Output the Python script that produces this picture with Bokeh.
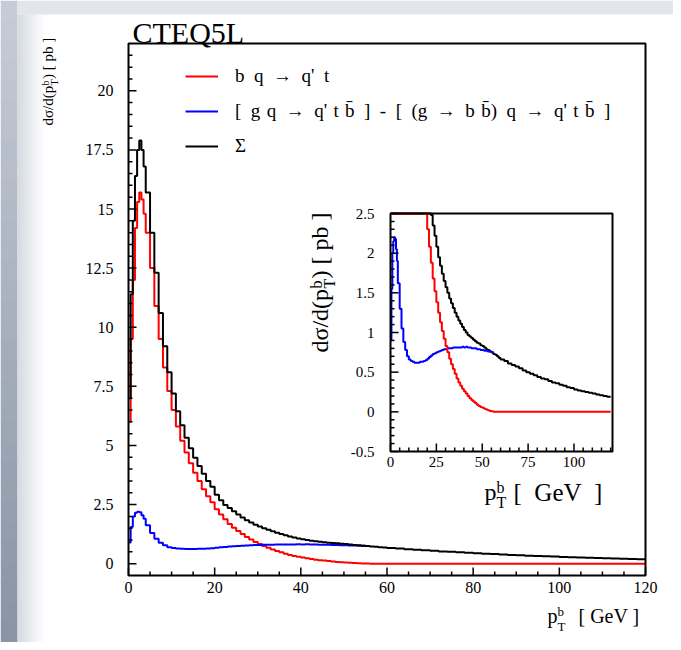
import numpy as np
from bokeh.plotting import figure
from bokeh.models import Range1d, Legend, LegendItem, Label, BoxAnnotation
from bokeh.embed import file_html
from bokeh.resources import INLINE
from bokeh.core.properties import value

# ---------------- data (histogram bins in GeV) ----------------
bin_edges = np.concatenate([np.arange(0, 4, 0.5), np.arange(4, 60, 1.0), np.arange(60, 122, 2.0)])

red_bq = [6.0, 9.5, 12.0, 14.2, 15.3, 15.7, 15.4, 14.8,
          14.0, 12.5, 10.9, 9.5, 8.3, 7.3, 6.5, 5.8, 5.2, 4.7,
          4.25, 3.85, 3.5, 3.15, 2.85, 2.6, 2.3, 2.08, 1.88, 1.68,
          1.52, 1.38, 1.25, 1.13, 1.02, 0.92, 0.83, 0.75, 0.67, 0.6,
          0.54, 0.48, 0.42, 0.37, 0.33, 0.29, 0.26, 0.23, 0.2, 0.17,
          0.15, 0.13, 0.11, 0.09, 0.075, 0.06, 0.05, 0.04, 0.03, 0.02,
          0.012, 0.006, 0.002, 0, 0, 0,
          0, 0, 0, 0, 0, 0, 0, 0, 0, 0,
          0, 0, 0, 0, 0, 0, 0, 0, 0, 0,
          0, 0, 0, 0, 0, 0, 0, 0, 0, 0]

blue_gq = [0.9, 1.55, 2.0, 2.15, 2.2, 2.18, 2.05, 1.9,
           1.62, 1.3, 1.05, 0.88, 0.78, 0.7, 0.66, 0.64, 0.63, 0.62,
           0.62, 0.62, 0.63, 0.63, 0.64, 0.65, 0.67, 0.69, 0.71, 0.73,
           0.74, 0.75, 0.76, 0.77, 0.78, 0.79, 0.79, 0.8, 0.8, 0.8,
           0.81, 0.81, 0.81, 0.81, 0.81, 0.82, 0.81, 0.82, 0.81, 0.81,
           0.8, 0.8, 0.8, 0.79, 0.79, 0.78, 0.78, 0.77, 0.77, 0.76,
           0.76, 0.75]

black_sum = [7.0, 11.4, 14.5, 16.4, 17.5, 17.9, 17.5, 16.8,
             15.7, 14.0, 12.3, 10.6, 9.2, 8.1, 7.2, 6.45, 5.85, 5.33,
             4.88, 4.48, 4.13, 3.8, 3.5, 3.25, 2.92, 2.68, 2.48, 2.35,
             2.22, 2.08, 1.95, 1.84, 1.74, 1.65, 1.57, 1.5, 1.43, 1.37,
             1.31, 1.25, 1.2, 1.15, 1.11, 1.07, 1.03, 1.0, 0.97, 0.95,
             0.93, 0.91, 0.89, 0.87, 0.86, 0.84, 0.83, 0.81, 0.79, 0.78,
             0.76, 0.75, 0.73, 0.72, 0.7, 0.68,
             0.66, 0.64, 0.61, 0.59, 0.57, 0.55, 0.52, 0.5, 0.48, 0.46,
             0.44, 0.42, 0.41, 0.39, 0.37, 0.36, 0.34, 0.33, 0.31, 0.3,
             0.28, 0.27, 0.26, 0.25, 0.24, 0.23, 0.22, 0.21, 0.2, 0.19]

EN, TP = "\u2002", "\u2004"
AR = "\u2192"
BB = "b\u0304"
legend_labels = [
    EN.join(["b", "q", AR, "q'", "t"]),
    "[" + EN + "g" + TP + "q" + EN + AR + EN + "q'" + TP + "t" + TP + BB + EN + "]" + EN + "-" + EN
    + "[" + EN + "(g" + EN + AR + EN + "b" + TP + BB + ")" + EN + "q" + EN + AR + EN + "q'" + TP + "t"
    + TP + BB + EN + "]",
    "\u03a3"]

main_x_range = (0, 120)
main_y_range = (-0.5, 22)
main_x_major = [0, 20, 40, 60, 80, 100, 120]
main_x_labels = ["0", "20", "40", "60", "80", "100", "120"]
main_y_major = [0, 2.5, 5, 7.5, 10, 12.5, 15, 17.5, 20]
main_y_labels = ["0", "2.5", "5", "7.5", "10", "12.5", "15", "17.5", "20"]
main_x_minor_step = 5
main_y_minor_step = 0.5

inset_x_range = (0, 121)
inset_y_range = (-0.5, 2.5)
inset_x_major = [0, 25, 50, 75, 100]
inset_x_labels = ["0", "25", "50", "75", "100"]
inset_y_major = [-0.5, 0, 0.5, 1, 1.5, 2, 2.5]
inset_y_labels = ["-0.5", "0", "0.5", "1", "1.5", "2", "2.5"]
inset_x_minor_step = 5
inset_y_minor_step = 0.1

SERIF = "Liberation Serif"
RED, BLUE, BLACK = "#ff0000", "#0000ff", "#000000"

# ---------------- layout geometry (canvas pixels, origin top-left) ----------------
W, H = 673, 642
M_L, M_R, M_T, M_B = 128, 645, 43, 575      # main plot box
I_L, I_R, I_T, I_B = 390, 612, 213, 451     # inset box


def span(lo, hi, p_lo, p_hi, size, flip=False):
    k = (p_hi - p_lo) / (hi - lo)
    if not flip:
        return Range1d(lo - p_lo / k, hi + (size - p_hi) / k), k
    return Range1d(lo - (size - p_hi) / k, hi + p_lo / k), k


xr, kx = span(*main_x_range, M_L, M_R, W)
yr, ky = span(*main_y_range, M_T, M_B, H, flip=True)
ixr, kxi = span(*inset_x_range, I_L, I_R, W)
iyr, kyi = span(*inset_y_range, I_T, I_B, H, flip=True)

p = figure(width=W, height=H, title=None, x_range=xr, y_range=yr,
           x_axis_location=None, y_axis_location=None,
           output_backend="svg", toolbar_location=None,
           min_border=0, min_border_left=0, min_border_right=0,
           min_border_top=0, min_border_bottom=0)
p.grid.visible = False
p.outline_line_color = None
p.background_fill_color = "white"
p.border_fill_color = "white"
p.extra_x_ranges = {"ix": ixr}
p.extra_y_ranges = {"iy": iyr}
IR = dict(x_range_name="ix", y_range_name="iy")


# ---------------- slide-like background strip (left / top) ----------------
def sbox(l, r, top, bot, c):
    p.add_layout(BoxAnnotation(left=l, right=r, top=H - top, bottom=H - bot,
                               left_units="screen", right_units="screen",
                               bottom_units="screen", top_units="screen",
                               fill_color=c, fill_alpha=1.0, line_color=None,
                               line_alpha=0, level="underlay"))


def mix(c1, c2, t):
    a = [int(c1[i:i + 2], 16) for i in (1, 3, 5)]
    b = [int(c2[i:i + 2], 16) for i in (1, 3, 5)]
    return "#" + "".join(f"{round(x + (y - x) * t):02x}" for x, y in zip(a, b))


NSEG = 32
for i in range(NSEG):
    sbox(0, 17, i * H / NSEG, (i + 1) * H / NSEG + 1, mix("#c6ccd7", "#8a94a5", i / (NSEG - 1)))
NL = 14
for i in range(NL):
    sbox(17 + 2 * i, 17 + 2 * (i + 1) + 0.5, 14, H, mix("#d3d8e0", "#ffffff", (i + 1) / NL))
sbox(17, W, 0, 14, "#e2e5ea")


def step_xy(edges, vals, cap=None):
    v = np.asarray(vals, dtype=float)
    if cap is not None:
        v = np.minimum(v, cap)
    e = np.asarray(edges[:len(v) + 1], dtype=float)
    return e, np.append(v, v[-1])


def ticks(xmaj, xmin_step, xlim, ymaj, ymin_step, ylim, kxx, kyy, lw, rng):
    x0, y0 = xlim[0], ylim[0]
    xmin = [t for t in np.arange(xlim[0], xlim[1] + 1e-9, xmin_step)
            if min(abs(t - m) for m in xmaj) > 1e-6 and t > xlim[0]]
    ymin = [round(t, 3) for t in np.arange(ylim[0], ylim[1] + 1e-9, ymin_step)]
    ymin = [t for t in ymin if min(abs(t - m) for m in ymaj) > 1e-6 and ylim[0] < t < ylim[1]]
    p.segment(x0=xmaj, x1=xmaj, y0=[y0] * len(xmaj), y1=[y0 + 8 / kyy] * len(xmaj),
              line_color="black", line_width=lw, **rng)
    p.segment(x0=xmin, x1=xmin, y0=[y0] * len(xmin), y1=[y0 + 4 / kyy] * len(xmin),
              line_color="black", line_width=lw, **rng)
    p.segment(x0=[x0] * len(ymaj), x1=[x0 + 8 / kxx] * len(ymaj), y0=ymaj, y1=ymaj,
              line_color="black", line_width=lw, **rng)
    p.segment(x0=[x0] * len(ymin), x1=[x0 + 4 / kxx] * len(ymin), y0=ymin, y1=ymin,
              line_color="black", line_width=lw, **rng)


def tick_labels(xmaj, xlab, ymaj, ylab, x0, y0, size, xoff, yoff, rng):
    p.text(x=xmaj, y=[y0] * len(xmaj), text=xlab, y_offset=yoff,
           text_align="center", text_baseline="top", text_font=value(SERIF),
           text_font_size=value(f"{size}px"), text_color="black", **rng)
    p.text(x=[x0] * len(ymaj), y=ymaj, text=ylab, x_offset=xoff,
           text_align="right", text_baseline="middle", text_font=value(SERIF),
           text_font_size=value(f"{size}px"), text_color="black", **rng)


MR = {}

# ---------------- main plot ----------------
p.quad(left=[main_x_range[0]], right=[main_x_range[1]], bottom=[main_y_range[0]],
       top=[main_y_range[1]], fill_color="white", line_color=None)

ex, ey = step_xy(bin_edges, red_bq)
r_red = p.step(ex, ey, mode="after", line_color=RED, line_width=2)
ex, ey = step_xy(bin_edges, blue_gq)
r_blue = p.step(ex, ey, mode="after", line_color=BLUE, line_width=2)
ex, ey = step_xy(bin_edges, black_sum)
r_black = p.step(ex, ey, mode="after", line_color=BLACK, line_width=2)

ticks(main_x_major, main_x_minor_step, main_x_range, main_y_major, main_y_minor_step,
      main_y_range, kx, ky, 1.5, MR)
p.quad(left=[main_x_range[0]], right=[main_x_range[1]], bottom=[main_y_range[0]],
       top=[main_y_range[1]], fill_color=None, line_color="black", line_width=2)
tick_labels(main_x_major, main_x_labels, main_y_major, main_y_labels,
            main_x_range[0], main_y_range[0], 16, -15, 6, MR)

# ---------------- inset ----------------
p.quad(left=[inset_x_range[0]], right=[inset_x_range[1]], bottom=[inset_y_range[0]],
       top=[inset_y_range[1]], fill_color="white", line_color=None, **IR)
cap = inset_y_range[1]
ex, ey = step_xy(bin_edges, black_sum, cap)
p.step(ex, ey, mode="after", line_color=BLACK, line_width=2, **IR)
ex, ey = step_xy(bin_edges, blue_gq, cap)
p.step(ex, ey, mode="after", line_color=BLUE, line_width=2, **IR)
ex, ey = step_xy(bin_edges, red_bq, cap)
p.step(ex, ey, mode="after", line_color=RED, line_width=2, **IR)
ticks(inset_x_major, inset_x_minor_step, (0, 120), inset_y_major, inset_y_minor_step,
      inset_y_range, kxi, kyi, 1.5, IR)
p.quad(left=[inset_x_range[0]], right=[inset_x_range[1]], bottom=[inset_y_range[0]],
       top=[inset_y_range[1]], fill_color=None, line_color="black", line_width=2, **IR)
tick_labels(inset_x_major, inset_x_labels, inset_y_major, inset_y_labels,
            inset_x_range[0], inset_y_range[0], 15, -16, 5, IR)

# ---------------- legend ----------------
legend = Legend(items=[LegendItem(label=legend_labels[0], renderers=[r_red]),
                       LegendItem(label=legend_labels[1], renderers=[r_blue]),
                       LegendItem(label=legend_labels[2], renderers=[r_black])],
                location=(185, H - 157), orientation="vertical",
                glyph_width=33, glyph_height=20, label_height=20,
                label_standoff=17, spacing=13, padding=0, margin=0,
                border_line_color=None, background_fill_alpha=0,
                label_text_font=SERIF, label_text_font_size="19px",
                label_text_color="black")
p.add_layout(legend)


# ---------------- texts: (page x, page baseline) -> centred label ----------------
def lab(text, x, base, size, rot=False):
    if rot:   # rotated 90deg CCW: baseline is the vertical line page-x = base, text starts at page-y = x
        p.add_layout(Label(x=base - 0.34 * size, y=H - x, x_units="screen", y_units="screen",
                           text=text, text_font=SERIF, text_font_size=f"{size}px",
                           angle=np.pi / 2, text_align="left", text_baseline="middle",
                           text_color="black"))
    else:
        p.add_layout(Label(x=x, y=H - (base - 0.34 * size), x_units="screen", y_units="screen",
                           text=text, text_font=SERIF, text_font_size=f"{size}px",
                           text_align="left", text_baseline="middle", text_color="black"))


lab("CTEQ5L", 132, 42, 30)

# main x title  p_T^b [ GeV ]
lab("p", 547, 622, 20)
lab("b", 557, 615, 13)
lab("T", 557, 630, 13)
lab("[ GeV ]", 578, 622, 20)

# main y title  d sigma / d(p_T^b) [ pb ]
lab("d\u03c3/d(p", 125, 53, 15, rot=True)
lab("b", 85, 48, 10, rot=True)
lab("T", 85, 57, 10, rot=True)
lab(") [ pb ]", 78.5, 53, 15, rot=True)

# inset y title
lab("d\u03c3/d(p", 352, 328, 24, rot=True)
lab("b", 288, 321, 16, rot=True)
lab("T", 288, 334, 16, rot=True)
lab(") [ pb ]", 278, 328, 24, rot=True)

# inset x title
lab("p", 484, 500, 24)
lab("b", 496, 492, 16)
lab("T", 496, 507, 16)
lab("[" + EN + "GeV" + EN + "]", 513, 500, 25)

open("out.html", "w").write(file_html(p, INLINE))
